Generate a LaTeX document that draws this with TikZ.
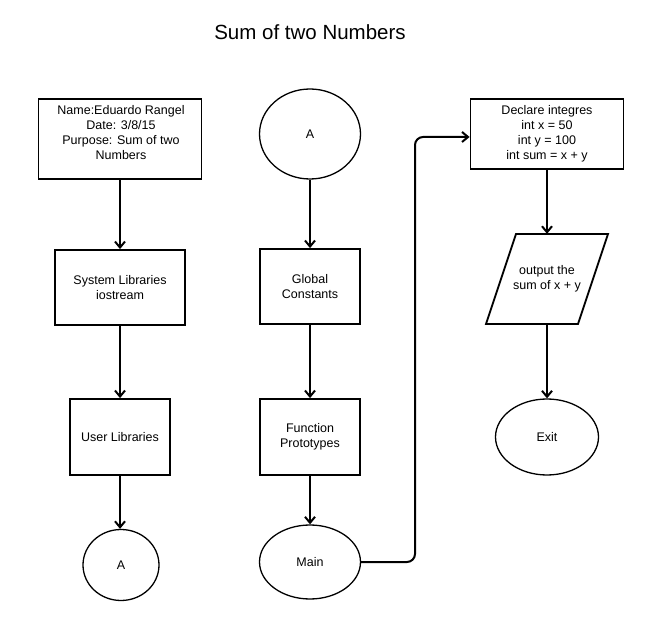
\documentclass[tikz,border=0pt]{standalone}
\usepackage{fontspec}
\setmainfont{Liberation Sans}
\usetikzlibrary{arrows.meta,shapes.geometric}
\begin{document}
\begin{tikzpicture}[x=1pt,y=-1pt,
  every node/.style={font=\fontsize{12.5}{15}\selectfont, align=center, inner sep=0pt},
  procbox/.style={draw, line width=1.8pt, rectangle},
  term/.style={draw, line width=1.3pt, ellipse},
  flow/.style={line width=2pt, -{Straight Barb[length=6pt,width=10pt]}},
  plain/.style={line width=1.8pt}]
\useasboundingbox (0,0) rectangle (646,620);
\fill[white] (0,0) rectangle (646,620);
\node[font=\fontsize{20.5}{24}\selectfont] (title) at (310,32) {Sum of two Numbers};
% column 1
\node[procbox, minimum width=163, minimum height=80] (hdr) at (120,139) {};
\node (hdrtxt) at (121,133) {Name:Eduardo Rangel\\Date: 3/8/15\\Purpose: Sum of two\\Numbers};
\node[procbox, minimum width=130, minimum height=75] (sys) at (120,287.5) {System Libraries\\iostream};
\node[procbox, minimum width=100, minimum height=76] (usr) at (120,437) {User Libraries};
\node[term, minimum width=76, minimum height=71] (a1) at (121,565) {A};
% column 2
\node[term, minimum width=101, minimum height=90] (a2) at (310,134) {A};
\node[procbox, minimum width=100, minimum height=75] (glob) at (310,286.5) {Global\\Constants};
\node[procbox, minimum width=100, minimum height=76] (func) at (310,437) {Function\\Prototypes};
\node[term, minimum width=101, minimum height=74] (main) at (310,562) {Main};
% column 3
\node[procbox, minimum width=153, minimum height=70] (decl) at (547,134) {Declare integres\\int x = 50\\int y = 100\\int sum = x + y};
\node[minimum width=121, minimum height=90] (out) at (547,279) {output the\\sum of x + y};
\draw[plain, line join=miter] (516,234) coordinate (p1) -- (608,234) coordinate (p2) -- (578,324) coordinate (p3) -- (486,324) coordinate (p4) -- cycle;
\node[term, minimum width=103, minimum height=76] (exit) at (547,437) {Exit};
% connectors
\draw[flow] (hdr.south) -- (sys.north);
\draw[flow] (sys.south) -- (usr.north);
\draw[flow] (usr.south) -- (usr.south |- a1.north);
\draw[flow] (a2.south) -- (glob.north);
\draw[flow] (glob.south) -- (func.north);
\draw[flow] (func.south) -- (main.north);
\coordinate (bend) at (415,137);
\draw[flow, rounded corners=8pt] (main.east) -- (bend |- main.east) -- (bend) -- (decl.west |- bend);
\draw[flow] (decl.south) -- (out.north);
\draw[flow] (out.south) -- (exit.north);
\end{tikzpicture}
\end{document}
